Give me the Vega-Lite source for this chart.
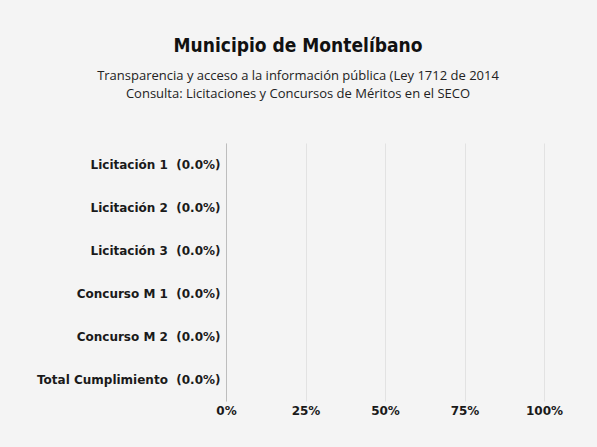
{
  "$schema": "https://vega.github.io/schema/vega-lite/v6.json",
  "autosize": {"type": "none"},
  "width": 318,
  "height": 258,
  "padding": {"left": 226, "top": 143, "right": 53, "bottom": 46},
  "background": "#f4f4f4",
  "config": {"view": {"stroke": null}},
  "title": {
    "text": "Municipio de Montelíbano",
    "subtitle": ["Transparencia y acceso a la información pública (Ley 1712 de 2014", "Consulta: Licitaciones y Concursos de Méritos en el SECO"],
    "anchor": "middle",
    "frame": "group",
    "dx": -87,
    "offset": 42,
    "font": "DejaVu Sans Condensed, DejaVu Sans, sans-serif",
    "fontSize": 19,
    "fontWeight": "bold",
    "color": "#111111",
    "subtitleFont": "Open Sans",
    "subtitleFontSize": 13,
    "subtitleColor": "#222222",
    "subtitlePadding": 14,
    "subtitleLineHeight": 18
  },
  "data": {
    "values": [
      {"item": "Licitación 1\u00a0\u00a0(0.0%)", "pct": 0},
      {"item": "Licitación 2\u00a0\u00a0(0.0%)", "pct": 0},
      {"item": "Licitación 3\u00a0\u00a0(0.0%)", "pct": 0},
      {"item": "Concurso M 1\u00a0\u00a0(0.0%)", "pct": 0},
      {"item": "Concurso M 2\u00a0\u00a0(0.0%)", "pct": 0},
      {"item": "Total Cumplimiento\u00a0\u00a0(0.0%)", "pct": 0}
    ]
  },
  "mark": {"type": "bar", "color": "#4c78a8"},
  "encoding": {
    "y": {
      "field": "item", "type": "nominal", "sort": null, "title": null,
      "axis": {"ticks": false, "domain": true, "domainColor": "#bdbdbd", "grid": false, "labelFont": "DejaVu Sans", "labelFontWeight": "bold", "labelFontSize": 12, "labelColor": "#1a1a1a", "labelPadding": 6, "labelLimit": 300}
    },
    "x": {
      "field": "pct", "type": "quantitative", "title": null,
      "scale": {"domain": [0, 1]},
      "axis": {"format": ".0%", "values": [0, 0.25, 0.5, 0.75, 1], "ticks": false, "domain": false, "grid": true, "gridColor": "#e2e2e2", "labelFlush": false, "labelFont": "DejaVu Sans", "labelFontWeight": "bold", "labelFontSize": 12, "labelColor": "#1a1a1a", "labelPadding": 4}
    }
  }
}
